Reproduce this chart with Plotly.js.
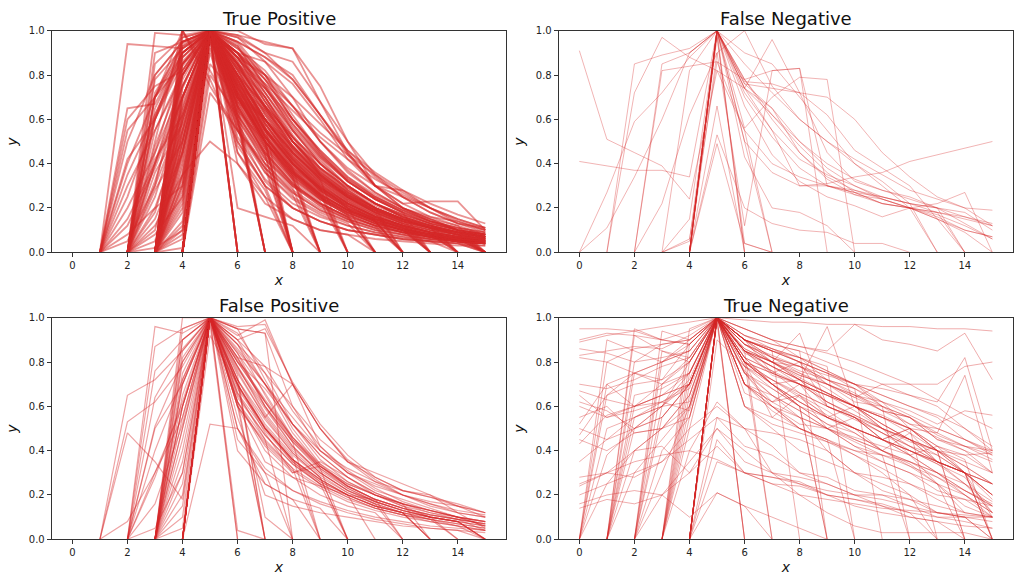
<!DOCTYPE html>
<html>
<head>
<meta charset="utf-8">
<script src="https://cdn.plot.ly/plotly-3.0.1.min.js"></script>
<style>
  body { margin: 0; background: #fff; }
  #plot { width: 1024px; height: 585px; }
</style>
</head>
<body>
<div id="plot"></div>
<script>
// each line: first number is the x where the line starts, then the y values at x, x+1, x+2 ...

var truePositive = [
  [1, 0, .94, .93, .92, 1, .98, .95, .92, .68, .45, .3, .22, .16, .12, .08],
  [1, 0, .65, .67, .9, 1, .85, .7, .52, .35, .25, .18, .13, .1, .08, .06],
  [1, 0, .55, .7, .85, 1, .8, .6, .42, .3, .2, .14, .1, 0],
  [1, 0, .42, .6, .88, 1, .78, .55, .38, 0],
  [1, 0, .3, .55, .8, 1, .72, .5, .33, .24, .17, .12, .09, .07, .05, .04],
  [1, 0, .2, .45, .75, 1, .7, .48, 0],
  [1, 0, .12, .38, .7, 1, .82, .62, .45, .32, .23, .16, .12, .09, .07, 0],
  [1, 0, .05, .3, .62, 1, .76, .58, .41, .29, 0],
  [1, 0, .5, .8, .95, 1, .88, .7, .5, .36, .26, .2, 0],
  [1, 0, .35, .62, .9, 1, .6, 0],
  [1, 0, .25, .6, .95, 1, .9, .74, .56, .42, .3, .22, .17, .13, .1, .08],
  [1, 0, .08, .2, .55, 1, .7, .52, .38, .27, .19, .14, 0],
  [1, 0, .6, .75, .82, 1, .84, .66, .48, .35, .26, .19, .14, .11, .09, .07],
  [1, 0, .15, .4, .8, 1, .74, .6, .45, .34, .26, .2, .15, .11, .08, .06],
  [1, 0, .4, .7, .92, 1, .66, .45, .31, .22, .16, .12, .09, .07, .05, .04],
  [2, 0, .99, .98, 1, .97, .86, .7, .5, .37, .27, .2, .15, .1, .07],
  [2, 0, .9, .95, 1, .9, .8, .62, .45, .33, .25, .19, .14, .11, .08],
  [2, 0, .85, .97, 1, .93, .75, .55, .4, .28, .2, .15, .11, .08, 0],
  [2, 0, .78, .92, 1, .8, .6, .44, .31, .22, .16, .12, .09, .07, .05],
  [2, 0, .7, .9, 1, .85, .64, .46, .33, 0],
  [2, 0, .62, .88, 1, .78, .57, 0],
  [2, 0, .55, .82, 1, .74, .53, .37, .26, .19, .14, .1, .08, .06, .05],
  [2, 0, .48, .8, 1, .88, .68, .5, .36, .27, .2, .15, 0],
  [2, 0, .4, .75, 1, .72, .5, .34, .24, .17, 0],
  [2, 0, .32, .7, 1, 0],
  [2, 0, .25, .65, 1, .8, .58, .42, .3, .22, .16, .12, .09, .07, .06],
  [2, 0, .18, .6, 1, .77, .55, .4, .28, .2, .15, .11, 0],
  [2, 0, .1, .52, 1, .7, .5, .35, 0],
  [2, 0, .05, .45, 1, .83, .63, .47, .35, .26, .19, .14, .11, .08, .06],
  [2, 0, .6, .85, .97, .9, .7, .5, .35, .25, .18, 0],
  [2, 0, .02, .1, 1, .62, 0],
  [2, 0, .6, .9, 1, .95, .88, .78, .62, .45, .3, .22, .23, .23, .1],
  [2, 0, .3, .8, 1, .88, .8, .66, .5, .36, .27, .2, .16, .14, .1],
  [2, 0, .45, .85, 1, .94, .78, .6, .46, .34, .26, .2, .15, .12, 0],
  [2, 0, .36, .58, 1, .86, .66, .48, .34, .25, .18, .13, 0],
  [2, 0, .72, .93, 1, .76, .52, .36, .25, .18, .13, .1, .08, .06, .05],
  [2, 0, .7, 1, .75, .55, .38, .27, .19, .14, .1, .08, .06, .05, 0],
  [2, 0, .5, 1, .78, .5, .3, .2, .14, .1, .08, .06, .05, .04, 0],
  [2, 0, .8, .95, 1, .58, .36, .24, .17, .12, .09, .07, .06, .05, .04],
  [2, 0, .65, .9, 1, .66, .44, .3, .21, .15, .11, 0],
  [2, 0, .7, .95, 1, .98, .9, .78, .62, .46, .34, .25, .18, .13, .09],
  [2, 0, .4, .7, 1, .72, .6, .45, .33, .25, .19, .15, .12, .09, .07],
  [2, 0, .15, .45, 1, .8, .66, .52, .4, .3, .22, .16, .12, .09, .07],
  [2, 0, .08, .25, 1, .75, .55, .4, .29, .21, .15, .11, .08, .06, 0],
  [2, 0, .2, .3, 1, .7, .5, 0],
  [2, 0, .12, .35, 1, .78, .56, .4, .28, .2, .14, .1, .08, .06, .05],
  [2, 0, .28, .5, 1, .74, .52, .37, .26, .19, .14, 0],
  [2, 0, .42, .62, 1, .82, .6, .43, .31, .22, .16, .12, .09, .07, .05],
  [3, 0, 1, 1, .95, .8, .6, .45, .32, .24, .18, .13, .1, .08],
  [3, 0, .97, 1, .9, .72, .53, .38, .28, .2, .15, .11, .09, .07],
  [3, 0, .93, 1, .85, .65, .47, .34, .25, .19, .14, .1, .08, 0],
  [3, 0, .9, 1, .8, .6, .43, .31, .23, .17, .12, 0],
  [3, 0, .86, 1, .76, .56, .4, .29, .21, .15, .11, .08, .06, .05],
  [3, 0, .82, 1, .72, .52, .37, .27, 0],
  [3, 0, .78, 1, .7, .5, 0],
  [3, 0, .74, 1, .68, .48, .34, .25, .18, .13, .1, .07, .05, .04],
  [3, 0, .7, 1, .66, 0],
  [3, 0, .66, 1, .82, .62, .45, .33, .24, .18, .13, .1, .08, .06],
  [3, 0, .62, 1, .79, .59, .42, .3, .22, .16, .12, .09, 0],
  [3, 0, .58, 1, .86, .68, .5, .37, .27, .2, .15, .11, .08, .07],
  [3, 0, .54, 1, .75, .55, .39, .28, .2, 0],
  [3, 0, .5, 1, .7, .5, .35, .25, .18, .13, .09, .07, .05, .04],
  [3, 0, .46, 1, 0],
  [3, 0, .42, 1, .8, .58, .41, .29, .21, .15, .11, .08, .06, .05],
  [3, 0, .38, 1, .73, .53, .38, .27, .19, .14, 0],
  [3, 0, .34, 1, .67, .47, .33, 0],
  [3, 0, .3, 1, .84, .65, .48, .35, .26, .19, .14, .11, .08, .07],
  [3, 0, .26, 1, .77, .56, .4, .29, .21, .15, .11, .08, 0],
  [3, 0, .22, 1, .69, .49, .35, .25, .18, .13, .1, .07, .06, .05],
  [3, 0, .18, .98, .62, .44, 0],
  [3, 0, .14, 1, .74, .54, .39, .28, .2, .15, .11, .08, .06, 0],
  [3, 0, .1, .95, .71, .5, .36, .26, 0],
  [3, 0, .06, 1, .58, 0],
  [3, 0, .02, 1, .8, .6, .44, .32, .23, .17, .12, .09, .07, .06],
  [3, 0, .88, 1, .88, .72, .55, .4, .3, .22, .16, .12, .09, .07],
  [3, 0, .64, .98, .9, .78, .6, .44, .32, .24, .18, .13, 0],
  [3, 0, .8, 1, .64, .45, .31, .22, .16, .12, .09, .07, .05, .04],
  [3, 0, .44, 1, .83, .7, .52, .38, .28, .21, .16, .12, .09, .08],
  [3, 0, .75, 1, 1, .94, .92, .75, .5, .3, .2, .14, .1, .08],
  [3, 0, .7, 1, .9, .86, .76, .6, .42, .3, .28, .2, .13, .11],
  [3, 0, .5, 1, .92, .82, .66, .5, .38, .3, .25, .2, .14, .1],
  [3, 0, .55, 1, .6, .4, .28, .2, .15, .11, .09, .07, .05, .04],
  [3, 0, .68, 1, .85, .66, .5, .38, .29, .22, .17, .13, .1, 0],
  [3, 0, .35, 1, .78, .6, .45, .33, .25, .19, .14, .11, 0],
  [3, 0, .35, .5, .4, .25, 0],
  [3, 0, .48, 1, .72, .51, .36, .26, .19, .14, .1, 0],
  [3, 0, .84, 1, .9, .76, .58, .43, .32, .24, .18, 0],
  [3, 0, .6, 1, .62, .43, .3, .22, .16, 0],
  [3, 0, .28, .9, .56, .38, 0],
  [3, 0, .4, 1, .88, .74, .57, .43, .32, .24, .18, .14, .1, .08],
  [3, 0, 1, .82, .6, .42, .3, .21, .15, .11, .08, .06, .05, .04],
  [3, 0, .7, 1, .55, .32, .2, .14, .1, .08, .06, .05, .04, .03],
  [3, 0, .9, 1, .4, .22, .15, .1, .08, 0],
  [3, 0, .3, 1, .52, .33, .22, .16, .12, .09, .07, .05, 0],
  [3, 0, .5, 1, .45, .28, 0],
  [3, 0, .85, 1, .95, .88, .8, .62, .44, .3, .2, .15, .1, .08],
  [3, 0, .6, 1, .92, .8, .7, .58, .46, .36, .28, .22, .17, .13],
  [3, 0, .94, 1, .87, .76, .64, .52, .42, .33, .26, .2, .15, .11],
  [3, 0, .55, 1, .7, .6, .48, .36, .27, .2, .15, .12, .09, .07],
  [3, 0, .2, 1, .8, .66, .52, .4, .3, .22, .16, .12, .09, 0],
  [3, 0, .45, 1, .68, .55, .42, .3, .22, .16, .12, .09, .07, .06],
  [3, 0, .12, 1, .66, .47, .33, .24, .17, .12, .09, .07, .05, .04],
  [3, 0, .24, 1, .75, .52, .36, .25, .18, .13, .1, .07, .05, .04],
  [3, 0, .32, 1, .71, .5, .35, .24, .17, .12, 0],
  [3, 0, .08, 1, .63, .42, .29, 0],
  [4, 0, 1, 0],
  [4, 0, .98, 0],
  [4, 0, .96, 0],
  [4, 0, .99, 0],
  [4, 0, 1, .85, .65, .47, .34, .25, .18, .13, .1, .07, .05],
  [4, 0, 1, .8, .58, .41, .29, .21, .15, .11, .08, .06, 0],
  [4, 0, 1, .75, .53, .37, .26, .19, .14, .1, .08, .06, .05],
  [4, 0, 1, .7, .48, .34, 0],
  [4, 0, 1, .9, .72, .55, .41, .3, .22, .16, .12, .09, .07],
  [4, 0, 1, .65, .44, 0],
  [4, 0, 1, .6, 0],
  [4, 0, 1, .88, .68, .5, .37, .27, .2, .15, .11, 0],
  [4, 0, .85, .7, .5, .36, .26, .19, .14, .1, .08, .06, .05],
  [4, 0, 1, .78, .56, .4, .28, .2, .15, .11, .08, 0],
  [4, 0, 1, .73, .51, 0],
  [4, 0, 1, .83, .63, .46, .33, .24, .17, .13, .09, .07, .06],
  [4, 0, 1, .68, .46, .32, .23, 0],
  [4, 0, 1, .2, .16, .12, 0],
  [4, 0, .92, .66, .45, .31, .22, .16, 0],
  [4, 0, .8, .62, 0],
  [4, 0, .72, .55, .4, 0],
  [4, 0, 1, .93, .75, .58, .44, .33, .25, .19, .14, .11, .09],
  [4, 0, 1, .45, .25, .15, .1, .08, .06, .05, .04, .03, .03],
  [4, 0, 1, .5, .3, .2, .14, .1, .08, .06, .05, .04, 0],
  [4, 0, 1, .62, .4, .27, .19, .14, .1, .08, .06, .05, .04],
  [4, 0, 1, .55, .36, .25, .18, .13, 0],
  [4, 0, 1, .48, .3, 0],
  [4, 0, 1, .58, .38, .26, 0],
  [4, 0, 1, .97, .9, .86, .68, .5, .35, .25, .18, .13, .1],
  [4, 0, 1, .9, .78, .66, .54, .44, .35, .27, .2, .15, .11],
  [4, 0, 1, .85, .74, .6, .46, .34, .25, .19, .14, .11, .09],
  [4, 0, 1, .76, .64, .5, .38, .29, .22, .17, .13, .1, .08],
  [4, 0, 1, .7, .56, .43, .32, .24, .18, .14, .11, .09, .07],
  [4, 0, 1, .64, .5, .38, .29, .22, .16, .12, .09, .07, 0]
];

var falseNegative = [
  [0, .91, .51, .45, .39, .24, .82, .74, .65, .5, .38, .3, .25, .22, .18, .15, .12],
  [0, .41, .39, .37, .37, .34, 1, .78, .62, .48, .36, .27, .22, .2, .16, .1, .07],
  [0, 0, .11, .34, .6, .9, 1, .72, .55, .42, .35, .3, .24, .2, .15, .09, 0],
  [0, 0, .27, .59, .72, .88, 1, .7, .52, .38, .3, .27, .22, .2, .17, .12, .06],
  [1, 0, .85, .89, .92, 1, .76, .74, .72, .7, .6, .45, .34, .25, .2, .19],
  [1, 0, .72, .97, .88, .82, .55, .4, .34, .3, .27, .25, .22, .2, .16, .12],
  [2, 0, .22, .62, .9, 1, .75, .6, .5, .42, .35, .28, .24, .2, .12],
  [2, 0, .82, .84, .86, .78, .6, .45, .34, .28, .24, .2, .18, 0],
  [2, 0, .85, .9, 1, .74, .62, .5, .4, .33, .28, .25, .2, 0],
  [3, 0, .15, 1, .5, .36, .3, .3, .28, .25, .22, .2, .18, .1],
  [3, 0, .05, 1, .66, .44, .32, .25, .21, .16, .2, .22, .27, 0],
  [3, 0, .06, .86, .55, 0],
  [3, 0, .82, 1, .76, .65, .45, .33, .26, .22, .2, .18, .16, .13],
  [4, 0, 1, 0],
  [4, 0, .98, 0],
  [4, 0, .97, .04, 0],
  [4, 0, .66, 0],
  [4, 0, .53, .2, .13, .1, .09, .04, .04, 0],
  [4, 0, .49, .04, 0],
  [4, 0, 1, .5, 0],
  [4, 0, 1, .43, .2, .18, .12, 0],
  [4, 0, 1, .77, .76, .72, .62, .46, .38, .3, .15, 0],
  [4, .9, 1, .74, .55, .3, .31, .34, .36, .41, .44, .47, .5],
  [4, 0, 1, .74, .96, .72, .45, .32, .28, .24, .2, .13, .06],
  [4, 0, .9, .12, .82, .83, .3, .26, .24, .2, .15, .1, .07],
  [4, 0, 1, .56, .7, .79, .78, 0],
  [4, 0, 1, .78, .82, .83, 0],
  [4, 0, 1, .85, .72, .6, .5, .4, .32, .22, 0],
  [4, 0, 1, .9, .85, .7, .55, .4, .3, .2, 0]
];

var falsePositive = [
  [1, 0, .65, .72, .85, 1, .8, .62, .45, .33, .25, .2, .16, .13, .1, .08],
  [1, 0, .53, .62, .78, 1, .72, .52, .38, .28, 0],
  [1, 0, .48, .35, .18, 1, .62, .4, .28, .2, .15, .12, 0],
  [1, 0, .08, .3, .6, 1, .7, .5, .36, .27, .2, .15, .12, .1, .08, 0],
  [2, 0, .96, .93, 1, .95, .72, .5, .34, .24, .18, .14, .11, .09, .07],
  [2, 0, .87, .95, 1, .88, .65, .45, .32, .23, .17, .13, .1, .08, 0],
  [2, 0, .76, .9, 1, .82, .6, .42, .3, .22, .16, 0],
  [2, 0, .64, .86, 1, .76, .55, .39, .28, 0],
  [2, 0, .51, .8, 1, .7, .5, .35, .25, .19, .14, .11, .09, .07, .05],
  [2, 0, .4, .72, 1, .84, .6, .44, 0],
  [2, 0, .28, .62, 1, .78, .56, .4, .29, .21, .16, .12, 0],
  [2, 0, .16, .52, 1, .62, 0],
  [2, 0, .05, .3, 1, .9, .7, .52, .38, .28, .21, .16, .13, .1, .06],
  [2, 0, .5, .7, 1, .96, .97, .7, .5, .35, .26, .2, .15, .12, .1],
  [2, 0, .3, .55, 1, .62, .42, .3, .35, .28, .2, .15, .1, .08, 0],
  [3, 0, 1, 1, .93, .75, .52, .36, .26, .2, .15, .12, .09, .04],
  [3, 0, .95, 1, .88, .7, .48, .33, .24, .18, .14, .11, .09, .07],
  [3, 0, .9, 1, .84, .66, .46, .32, 0],
  [3, 0, .85, 1, .8, .62, .44, .31, .23, .17, .13, .1, 0],
  [3, 0, .8, 1, .77, .59, .42, .3, .22, .17, .13, .1, .08, .06],
  [3, 0, .75, 1, .74, 0],
  [3, 0, .7, 1, .72, .54, .39, .28, .21, .16, .12, 0],
  [3, 0, .65, 1, .69, .51, .37, 0],
  [3, 0, .6, 1, .66, .49, .35, .26, .2, .15, .12, .09, .07, .05],
  [3, 0, .55, 1, .64, .47, .34, .25, .19, .14, .11, .09, 0],
  [3, 0, .5, 1, .62, .45, 0],
  [3, 0, .45, 1, .6, .44, .32, .24, .18, .14, .11, .08, .06, .04],
  [3, 0, .4, 1, .9, .78, .58, .42, .31, .23, .17, .13, .1, .08],
  [3, 0, .35, 1, .86, .7, .52, .38, .28, .21, .16, 0],
  [3, 0, .3, 1, .81, .63, .46, .33, .24, .18, 0],
  [3, 0, .25, 1, .78, .6, .44, .32, .24, .18, .14, .11, .09, .07],
  [3, 0, .2, 1, .72, 0],
  [3, 0, .15, 1, .68, .5, .36, .27, .2, .15, .12, .09, .06, 0],
  [3, 0, .1, 1, .65, .47, .34, .25, 0],
  [3, 0, .05, 1, .6, .43, .31, .23, .17, .13, .1, .08, .06, .04],
  [3, 0, .82, 1, .92, .99, .7, .5, .36, .27, .2, .16, .12, .1],
  [3, 0, .6, 1, .9, .95, .71, .52, .38, .28, .22, .19, .16, .12],
  [3, 0, .72, 1, .95, .93, .6, .4, .3, .24, .2, .17, .15, .12],
  [3, 0, .6, 1, .5, .32, .22, .16, .12, .09, .07, .05, .04, .03],
  [3, 0, .9, 1, .7, .1, 0],
  [3, 0, .5, 1, .4, .25, .18, 0],
  [3, 0, .7, 1, .75, .55, .7, .42, .3, .22, .18, .14, .1, .06],
  [4, 0, 1, 0],
  [4, 0, .97, 0],
  [4, 0, 1, .78, .57, .41, .3, .22, .17, .13, .1, .08, .06],
  [4, 0, 1, .72, .5, .36, .27, .2, .15, .12, 0],
  [4, 0, 1, .66, .45, .32, 0],
  [4, 0, 1, .6, 0],
  [4, 0, 1, .82, .62, .46, .34, .26, .2, .16, .13, .1, .08],
  [4, 0, .52, .5, .3, 0],
  [4, 0, 1, .04, 0],
  [4, 0, 1, .88, .75, .6, .45, .35, .28, .22, .2, .15, .12],
  [4, 0, 1, .85, .7, .55, .4, .3, .25, .2, .16, .13, .11],
  [4, 0, .92, .7, .5, .36, .26, .2, 0],
  [4, 0, 1, .8, .68, .52, .4, .32, .26, .22, .19, .15, .1],
  [4, 0, 1, .45, .3, .22, .17, .13, .1, .08, .06, .05, .04],
  [4, 0, 1, .55, .2, .15, .12, .1, .08, .06, .05, .04, 0],
  [4, 0, 1, .95, .93, 0],
  [4, 0, 1, .6, .35, .28, .24, .2, .18, .14, .1, .08, 0],
  [4, 0, 1, .7, .48, .3, .33, .25, .2, .16, .12, .1, .08],
  [4, 0, 1, .5, .25, .18, .14, 0],
  [4, 0, 1, .82, .78, .7, .5, .35, .3, .25, .2, .12, .05]
];

var trueNegative = [
  [0, .95, .95, .94, .96, .98, 1, .99, .98, .98, .97, .97, .96, .96, .95, .95, .94],
  [0, .9, .93, .92, .9, .94, 1, .95, .9, .87, .85, .97, .9, .88, .85, .93, .72],
  [0, .89, .92, .94, .9, .88, 1, .9, .8, .72, .62, .55, .48, .42, .38, .3, .2],
  [0, .86, .84, .8, .88, .9, 1, .85, .74, .7, .65, .6, .56, .5, .4, .35, .3],
  [0, .83, .85, .87, .86, .92, 1, .88, .82, .78, .7, .64, .7, .7, .7, .78, .8],
  [0, .82, .8, .86, .88, .9, 1, .86, .8, .73, .66, .6, .52, .45, .4, .38, .3],
  [0, .67, .63, .6, .65, .7, 1, .82, .76, .66, .6, .55, .48, .4, .34, .25, .17],
  [0, .65, .55, .58, .62, .68, 1, .78, .72, .64, .56, .5, .45, .4, .34, .28, .12],
  [0, .55, .6, .48, .5, .6, 1, .8, .7, .6, .55, .5, .45, .5, .42, .38, .39],
  [0, .52, .7, .75, .8, .85, 1, .9, .86, .82, .76, .7, .62, .56, .5, .45, .38],
  [0, .47, .65, .75, .72, .88, 1, .9, .86, .8, .75, .68, .62, .58, .52, .58, .56],
  [0, .43, .56, .6, .62, .58, 1, .76, .65, .58, .5, .44, .38, .33, .28, .22, .16],
  [0, .28, .3, .35, .38, .4, .36, .3, .25, .24, .2, .18, .15, .12, .1, .08, .05],
  [0, .24, .3, .4, .42, .3, .42, .3, .28, .26, .2, .18, .16, .12, 0],
  [0, .2, .25, .3, .35, .5, .6, .5, .3, .25, .2, .15, .12, .1, .08, .06, .05],
  [0, .16, .2, .22, .2, .3, .5, .4, .3, .2, .12, .06, .03, .03, .03, .03, 0],
  [0, .14, .18, .16, .2, .1, .21, .15, .1, .05, 0],
  [0, .62, .58, .5, .55, .7, 1, .75, .6, .55, .4, .3, .25, .2, 0],
  [0, .6, .55, .6, .65, .7, 1, .85, .8, .93, .6, .55, .45, .4, .35, .3, .25],
  [0, .5, .45, .55, .6, .8, 1, .7, .62, .7, .55, .6, .5, .45, .35, .3, .2],
  [0, .35, .45, .5, .55, .7, 1, .8, .55, .65, .5, .45, .4, .35, .3, .22, .15],
  [0, .25, .3, .28, .35, .45, .55, .42, .38, .3, .28, .22, .2, .18, .15, .12, .1],
  [0, .45, .4, .48, .5, .55, 1, .6, .52, .48, .44, .4, .38, .35, .3, .2, .12],
  [0, .7, .68, .72, .78, .82, 1, .9, .82, .76, .72, .65, .58, .55, .45, .42, .4],
  [0, 0, .9, .85, .8, .88, 1, .9, .85, .8, .75, .7, .6, .55, .45, .4, .3],
  [0, 0, .8, .75, .8, .9, 1, .8, .7, .62, .55, .5, .45, .4, .35, .3, .25],
  [0, 0, .65, .7, .72, .8, 1, .85, .78, .72, .66, .6, .55, .48, .4, .33, .25],
  [0, 0, .5, .55, .62, .7, 1, .7, .6, .5, .45, .4, .35, .3, .25, .2, .1],
  [0, 0, .38, .5, .6, .75, 1, .82, .7, .62, .55, .48, .4, .33, .25, 0],
  [0, 0, .25, .4, .5, .65, 1, .8, 0],
  [0, 0, .7, .6, .65, .75, 1, .88, .8, .75, .7, .65, .62, .5, .4, 0],
  [1, 0, .95, .9, .88, 1, .92, .88, .85, .8, .75, .7, .65, .6, .5, .4],
  [1, 0, .8, .82, .85, 1, .85, .75, .7, .65, .6, .52, .45, .4, .33, .25],
  [1, 0, .65, .68, .75, 1, .8, .72, .65, .58, .5, .45, .38, .3, .22, .15],
  [1, 0, .5, .6, .72, 1, .75, .65, .58, .5, .42, .38, 0],
  [1, 0, .3, .45, .6, 1, .7, .6, .5, .45, 0],
  [1, 0, .92, .85, .8, 1, .9, .82, .75, .68, .6, .55, .5, .42, .36, 0],
  [1, 0, .6, .7, .8, 1, .85, .8, .72, .96, .6, .5, .45, .35, .3, .18],
  [1, 0, .4, .5, .65, 1, .9, .75, .8, .6, .55, .5, .38, .42, .3, .1],
  [1, 0, .75, .7, .82, 1, .88, .83, .78, .72, .66, .58, .55, .48, .42, .38],
  [1, 0, .55, .6, .7, 1, .6, .5, .4, .35, .3, .22, .18, .12, .1, 0],
  [2, 0, .94, .9, 1, .95, .9, .87, .84, .8, .75, .7, .63, .56, .5],
  [2, 0, .85, .82, 1, .88, .8, .74, .7, .64, .58, .52, .46, .4, .35],
  [2, 0, .7, .75, 1, .85, .78, .7, .62, .56, .5, .45, .4, .3, 0],
  [2, 0, .55, .7, 1, .8, .7, .6, .52, .45, .4, .34, .25, .12],
  [2, 0, .3, .6, 1, .82, .7, .6, 0],
  [2, 0, .2, .35, .5, .35, .3, .28, .25, .2, .15, .1, .08, 0],
  [2, 0, .4, .55, 1, .8, .75, .7, .65, .6, .55, .5, .48, .74, .3],
  [2, 0, .6, .62, 1, .7, .65, .55, .5, .55, .45, .38, .3, .25, .12],
  [2, 0, .8, .85, 1, .9, .85, .8, .7, .62, .6, .52, .5, .45, .4],
  [3, 0, .95, 1, .9, .85, .8, .75, .7, .65, .6, .56, .5, .42],
  [3, 0, .88, 1, .92, .86, .82, .76, .7, .65, .6, .55, .45, .39],
  [3, 0, .8, 1, .85, .78, .72, .66, .6, .52, .45, .38, .3, 0],
  [3, 0, .7, 1, .8, .75, .7, .65, .58, .5, .42, .35, .25, .15],
  [3, 0, .6, 1, 0],
  [3, 0, .5, 1, .75, .68, .6, 0],
  [3, 0, .4, .62, .5, .42, .3, .25, .2, .18, .15, .12, .1, .08],
  [3, 0, .75, 1, .85, .8, .78, .74, .7, .68, .65, .62, .82, .4],
  [3, 0, .55, 1, .7, .62, .65, .55, .5, .4, .48, .35, .3, .2],
  [3, 0, .65, 1, .95, .9, .82, .72, .68, .6, .55, .47, .42, .36],
  [4, 0, 1, 0],
  [4, 0, .98, 0],
  [4, 0, 1, .85, 0],
  [4, 0, 1, .9, .85, 0],
  [4, 0, 1, .92, .88, .85, 0],
  [4, 0, 1, .9, .85, .82, .78, 0],
  [4, 0, 1, .88, .82, .78, .72, .68, 0],
  [4, 0, 1, .86, .8, .74, .7, .65, .6, 0],
  [4, 0, 1, .84, .78, .72, .66, .6, .55, .5, 0],
  [4, 0, 1, .82, .76, .7, .62, .56, .5, .44, .4, 0],
  [4, 0, 1, .8, .72, .66, .6, .54, .48, .42, .35, .3, 0],
  [4, 0, .9, .78, .7, .62, .55, .5, .45, .4, .35, .3, .25],
  [4, 0, .45, .3, .25, .2, .18, .16, .14, .13, .12, .11, .1],
  [4, 0, .21, .15, 0],
  [4, 0, .35, .3, .28, .25, .22, .2, .2, .15, .1, .1, .1],
  [4, 0, 1, .8, .7, .72, .6, .55, .45, .5, .4, .3, .2],
  [4, 0, 1, .75, .62, .55, .5, .42, .35, .3, .22, .18, .1],
  [4, 0, 1, .7, .58, .5, .45, .38, .32, .25, .18, .12, .1],
  [4, 0, 1, .78, .68, .6, .52, .48, .4, .35, .28, .2, .12],
  [4, 0, .55, .5, .48, .45, .4, .3, .28, .25, .2, .18, .15],
  [4, 0, 1, .6, .55, .5, .44, .38, .3, .2, .12, .1, 0],
  [4, 0, 1, .66, .6, .52, .5, .46, .42, .38, .25, .15, .1]
];

var panelTitles = ['True Positive', 'False Negative', 'False Positive', 'True Negative'];
var xTicks = [0, 2, 4, 6, 8, 10, 12, 14];

function makeTraces(lines, xa, ya, width, alpha) {
  return lines.map(function (l) {
    var ys = l.slice(1).filter(function (v, i) { return l[0] + i <= 15; });
    return {
      x: ys.map(function (v, i) { return l[0] + i; }),
      y: ys,
      xaxis: xa, yaxis: ya,
      type: 'scatter', mode: 'lines',
      line: {color: '#d62728', width: width},
      opacity: alpha,
      hoverinfo: 'skip', showlegend: false
    };
  });
}

var traces = []
  .concat(makeTraces(truePositive, 'x', 'y', 1.8, 0.5))
  .concat(makeTraces(falseNegative, 'x2', 'y2', 1, 0.35))
  .concat(makeTraces(falsePositive, 'x3', 'y3', 1.2, 0.42))
  .concat(makeTraces(trueNegative, 'x4', 'y4', 1, 0.38));

var font = 'DejaVu Sans, sans-serif';

function xAxis(domain, anchor) {
  return {
    domain: domain, anchor: anchor, range: [-0.75, 15.75],
    tickvals: xTicks, ticks: 'outside', ticklen: 4, tickcolor: '#333',
    showline: true, mirror: true, linecolor: '#333', linewidth: 1,
    showgrid: false, zeroline: false,
    tickfont: {family: font, size: 10, color: '#222'},
    title: {text: 'x', standoff: 4, font: {family: font, size: 14, style: 'italic', color: '#111'}}
  };
}
function yAxis(domain, anchor) {
  return {
    domain: domain, anchor: anchor, range: [0, 1],
    dtick: 0.2, tickformat: '.1f', ticks: 'outside', ticklen: 4, tickcolor: '#333',
    showline: true, mirror: true, linecolor: '#333', linewidth: 1,
    showgrid: false, zeroline: false,
    tickfont: {family: font, size: 10, color: '#222'},
    title: {text: 'y', standoff: 7, font: {family: font, size: 14, style: 'italic', color: '#111'}}
  };
}

var colL = [0.0505, 0.4941], colR = [0.5456, 0.9893];
var rowT = [0.5687, 0.9475], rowB = [0.0781, 0.4569];

var layout = {
  width: 1024, height: 585,
  margin: {l: 0, r: 0, t: 0, b: 0},
  paper_bgcolor: '#fff', plot_bgcolor: '#fff',
  xaxis: xAxis(colL, 'y'), yaxis: yAxis(rowT, 'x'),
  xaxis2: xAxis(colR, 'y2'), yaxis2: yAxis(rowT, 'x2'),
  xaxis3: xAxis(colL, 'y3'), yaxis3: yAxis(rowB, 'x3'),
  xaxis4: xAxis(colR, 'y4'), yaxis4: yAxis(rowB, 'x4'),
  annotations: [
    {text: panelTitles[0], x: (colL[0] + colL[1]) / 2, y: 0.969},
    {text: panelTitles[1], x: (colR[0] + colR[1]) / 2, y: 0.969},
    {text: panelTitles[2], x: (colL[0] + colL[1]) / 2, y: 0.4786},
    {text: panelTitles[3], x: (colR[0] + colR[1]) / 2, y: 0.4786}
  ].map(function (a) {
    a.xref = 'paper'; a.yref = 'paper'; a.showarrow = false;
    a.xanchor = 'center'; a.yanchor = 'middle';
    a.font = {family: font, size: 18, color: '#111'};
    return a;
  })
};

Plotly.newPlot('plot', traces, layout, {staticPlot: true});
</script>
</body>
</html>
